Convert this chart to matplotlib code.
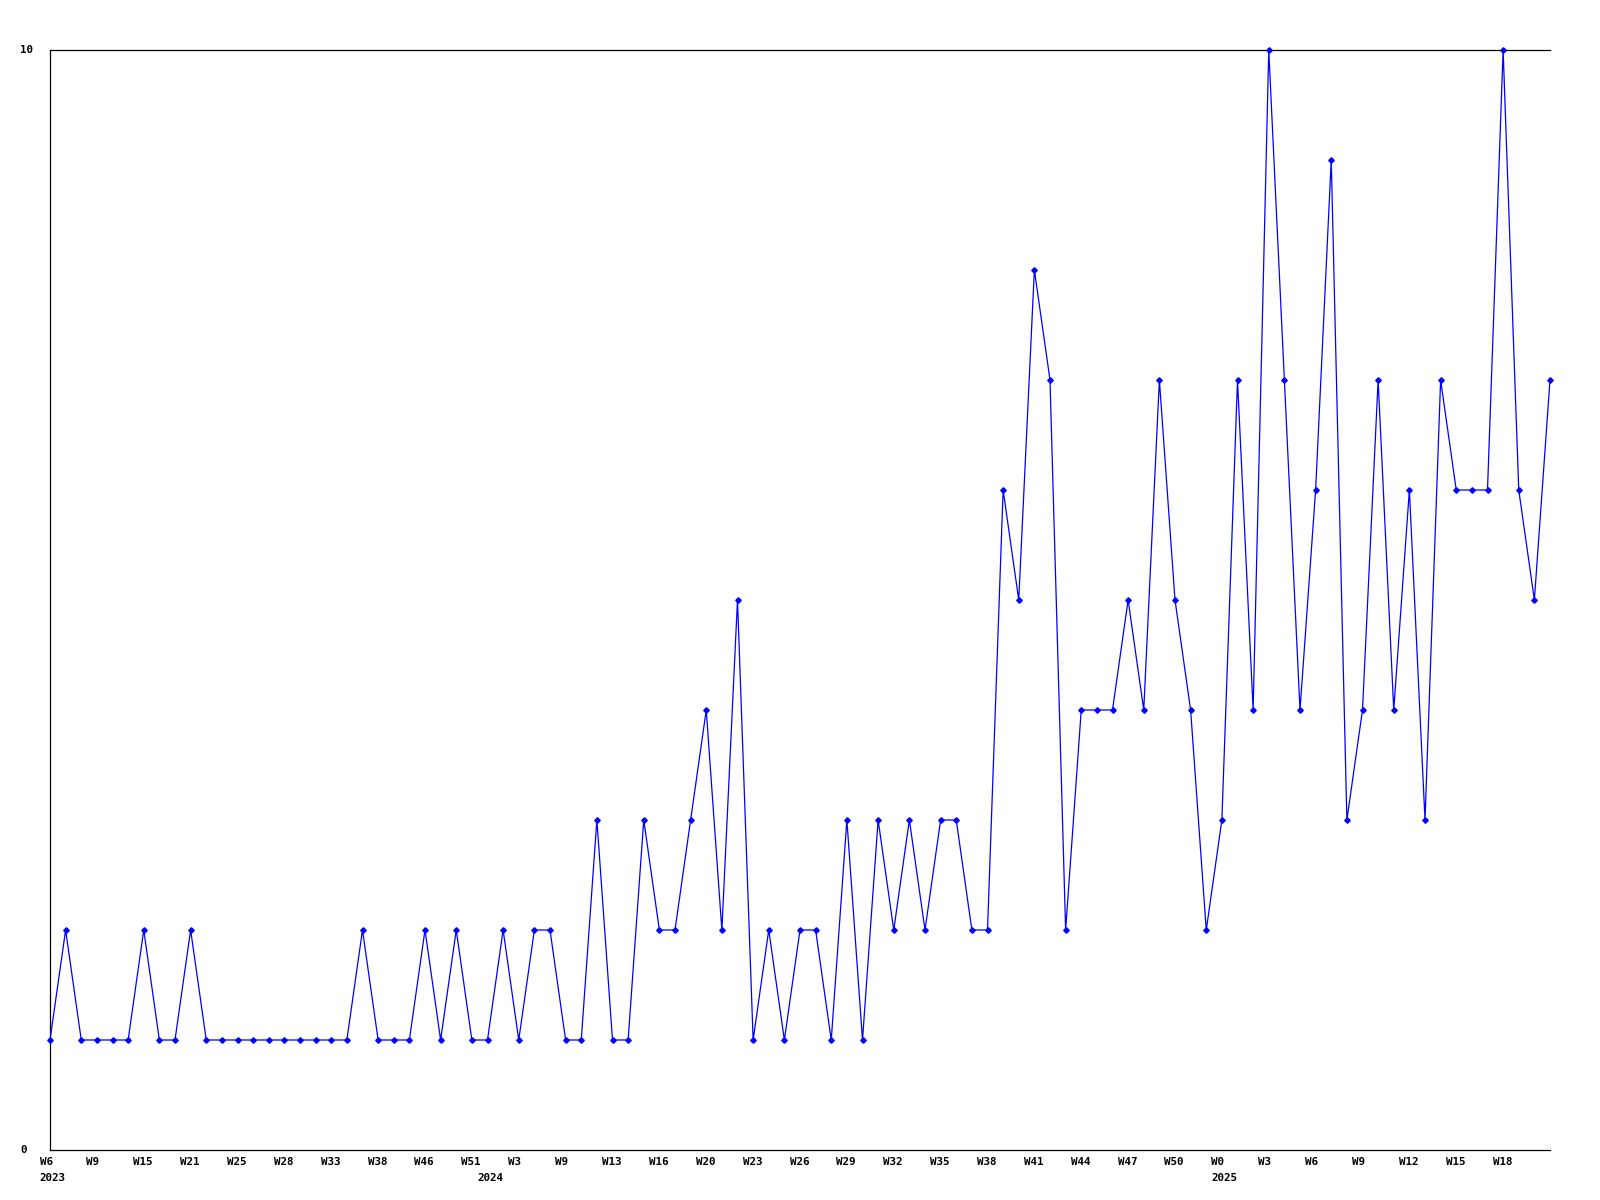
import matplotlib
matplotlib.use('Agg')
import matplotlib.pyplot as plt
import matplotlib.transforms as mtransforms

# weekly counts, one point per week that has data
values = [1, 2, 1, 1, 1, 1, 2, 1, 1, 2,
          1, 1, 1, 1, 1, 1, 1, 1, 1, 1,
          2, 1, 1, 1, 2, 1, 2, 1, 1, 2,
          1, 2, 2, 1, 1, 3, 1, 1, 3, 2,
          2, 3, 4, 2, 5, 1, 2, 1, 2, 2,
          1, 3, 1, 3, 2, 3, 2, 3, 3, 2,
          2, 6, 5, 8, 7, 2, 4, 4, 4, 5,
          4, 7, 5, 4, 2, 3, 7, 4, 10, 7,
          4, 6, 9, 3, 4, 7, 4, 6, 3, 7,
          6, 6, 6, 10, 6, 5, 7]

week_labels = ['W6', 'W9', 'W15', 'W21', 'W25', 'W28', 'W33', 'W38', 'W46', 'W51',
               'W3', 'W9', 'W13', 'W16', 'W20', 'W23', 'W26', 'W29', 'W32', 'W35',
               'W38', 'W41', 'W44', 'W47', 'W50', 'W0', 'W3', 'W6', 'W9', 'W12',
               'W15', 'W18']
label_step = 3

years = ['2023', '2024', '2025']
year_points = [0, 28, 75]

y_labels = ['0', '10']
y_max = 10

font = dict(family='DejaVu Sans Mono', weight='bold', fontsize=7.8)

fig = plt.figure(figsize=(16, 12), dpi=100)
ax = fig.add_axes([50 / 1600, 50 / 1200, 1500 / 1600, 1100 / 1200])

x = list(range(len(values)))
ax.plot(x, values, color='#0000ff', lw=0.9, marker='D', markersize=2.8,
        clip_on=False, zorder=3)

ax.set_xlim(0, len(values) - 1)
ax.set_ylim(0, y_max)
ax.set_xticks([])
ax.set_yticks([])
ax.spines['right'].set_visible(False)
for s in ('left', 'bottom', 'top'):
    ax.spines[s].set_linewidth(0.9)
    ax.spines[s].set_color('black')

# labels sit left-aligned a few pixels left of their point
shift = mtransforms.ScaledTranslation(-10.5 / 100, 0, fig.dpi_scale_trans)
xtrans = ax.get_xaxis_transform() + shift
for i, lab in enumerate(week_labels):
    ax.text(i * label_step, -7 / 1100, lab, transform=xtrans,
            ha='left', va='top', **font)
for pos, yr in zip(year_points, years):
    ax.text(pos, -23 / 1100, yr, transform=xtrans,
            ha='left', va='top', **font)

ytrans = mtransforms.blended_transform_factory(fig.transFigure, ax.transData)
for lab in y_labels:
    ax.text(20 / 1600, float(lab), lab, transform=ytrans,
            ha='left', va='center', **font)

fig.savefig('out.png', dpi=100)
